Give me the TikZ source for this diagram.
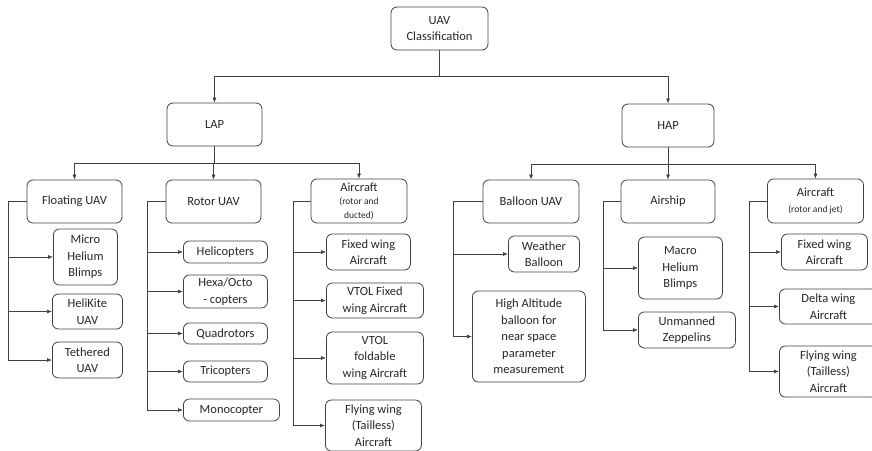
\documentclass[tikz,border=0pt]{standalone}
\usepackage{fontspec}
\setmainfont{Carlito}
\usetikzlibrary{arrows.meta}

\definecolor{linegray}{HTML}{404040}
\definecolor{textgray}{HTML}{262626}

\tikzset{
    box/.style={draw=linegray, line width=0.8pt, rounded corners=6pt, align=center,
        inner sep=1pt, text=textgray, font=\fontsize{12.5}{16.5}\selectfont},
    leaf/.style={box, anchor=west},
    arr/.style={draw=linegray, line width=0.7pt, -{Latex[length=5pt,width=4pt]}}
}

\begin{document}
\begin{tikzpicture}[x=1pt, y=-1pt]
    \clip (0,0) rectangle (872,450);

    % --- Wurzel und erste Ebene ---
    \node[box, minimum width=97, minimum height=43] (uav) at (439.5,28.5) {UAV\\Classification};
    \node[box, minimum width=95, minimum height=43] (lap) at (214.5,124.5) {LAP};
    \node[box, minimum width=92, minimum height=43] (hap) at (668,125.5) {HAP};

    % --- Zweite Ebene ---
    \node[box, minimum width=95, minimum height=43] (floating) at (74.5,201.5) {Floating UAV};
    \node[box, minimum width=95, minimum height=43] (rotor) at (213.5,201.5) {Rotor UAV};
    \node[box, minimum width=96, minimum height=44] (aircraftL) at (359,201)
        {Aircraft\\[-3pt]{\fontsize{9.5}{13}\selectfont(rotor and}\\[-3pt]{\fontsize{9.5}{13}\selectfont ducted)}};
    \node[box, minimum width=96, minimum height=43] (balloon) at (531,201.5) {Balloon UAV};
    \node[box, minimum width=94, minimum height=43] (airship) at (668,201.5) {Airship};
    \node[box, minimum width=96, minimum height=44] (aircraftH) at (815.5,201)
        {Aircraft\\{\fontsize{9.5}{13}\selectfont(rotor and jet)}};

    % --- Blaetter LAP ---
    \node[leaf, minimum width=64, minimum height=56] (microblimp) at (53,257) {Micro\\Helium\\Blimps};
    \node[leaf, minimum width=70, minimum height=35] (helikite) at (52,311.5) {HeliKite\\UAV};
    \node[leaf, minimum width=70, minimum height=36] (tethered) at (52,360) {Tethered\\UAV};

    \node[leaf, minimum width=84, minimum height=22] (helicopters) at (183,252) {Helicopters};
    \node[leaf, minimum width=84, minimum height=33] (hexaocto) at (183,291.5) {Hexa/Octo\\- copters};
    \node[leaf, minimum width=84, minimum height=21] (quadrotors) at (183,333.5) {Quadrotors};
    \node[leaf, minimum width=84, minimum height=21] (tricopters) at (183,371.5) {Tricopters};
    \node[leaf, minimum width=96, minimum height=22] (monocopter) at (183,410) {Monocopter};

    \node[leaf, minimum width=84, minimum height=36] (fixedL) at (326,252) {Fixed wing\\Aircraft};
    \node[leaf, minimum width=97, minimum height=35] (vtolfixed) at (326,300.5) {VTOL Fixed\\wing Aircraft};
    \node[leaf, minimum width=97, minimum height=52] (vtolfold) at (326,358) {VTOL\\foldable\\wing Aircraft};
    \node[leaf, minimum width=96, minimum height=51] (flyingL) at (325,425.5) {Flying wing\\(Tailless)\\Aircraft};

    % --- Blaetter HAP ---
    \node[leaf, minimum width=71, minimum height=36] (weather) at (508,254) {Weather\\Balloon};
    \node[leaf, minimum width=113, minimum height=91] (highalt) at (472,336.5)
        {High Altitude\\balloon for\\near space\\parameter\\measurement};

    \node[leaf, minimum width=84, minimum height=62] (macroblimp) at (638,268) {Macro\\Helium\\Blimps};
    \node[leaf, minimum width=97, minimum height=36] (zeppelin) at (638,330) {Unmanned\\Zeppelins};

    \node[leaf, minimum width=86, minimum height=36] (fixedH) at (781,252) {Fixed wing\\Aircraft};
    \node[leaf, minimum width=98, minimum height=35] (delta) at (779,306.5) {Delta wing\\Aircraft};
    \node[leaf, minimum width=98, minimum height=51] (flyingH) at (779,371.5) {Flying wing\\(Tailless)\\Aircraft};

    % --- Verbindungen von oben ---
    \draw[arr] (uav.south) -- ++(0,26) -| (lap.north);
    \draw[arr] (uav.south) -- ++(0,26) -| (hap.north);
    \foreach \c in {floating, rotor, aircraftL}
        \draw[arr] (lap.south) -- ++(0,17) -| (\c.north);
    \foreach \c in {balloon, airship, aircraftH}
        \draw[arr] (hap.south) -- ++(0,17) -| (\c.north);

    % --- Seitliche Stämme ---
    \foreach \c in {microblimp, helikite, tethered}
        \draw[arr] (floating.west) -- ++(-18,0) |- (\c.west);
    \foreach \c in {helicopters, hexaocto, quadrotors, tricopters, monocopter}
        \draw[arr] (rotor.west) -- ++(-18,0) |- (\c.west);
    \foreach \c in {fixedL, vtolfixed, vtolfold, flyingL}
        \draw[arr] (aircraftL.west) -- ++(-17,0) |- (\c.west);
    \foreach \c in {weather, highalt}
        \draw[arr] (balloon.west) -- ++(-29,0) |- (\c.west);
    \foreach \c in {macroblimp, zeppelin}
        \draw[arr] (airship.west) -- ++(-17,0) |- (\c.west);
    \foreach \c in {fixedH, delta, flyingH}
        \draw[arr] (aircraftH.west) -- ++(-18,0) |- (\c.west);
\end{tikzpicture}
\end{document}
